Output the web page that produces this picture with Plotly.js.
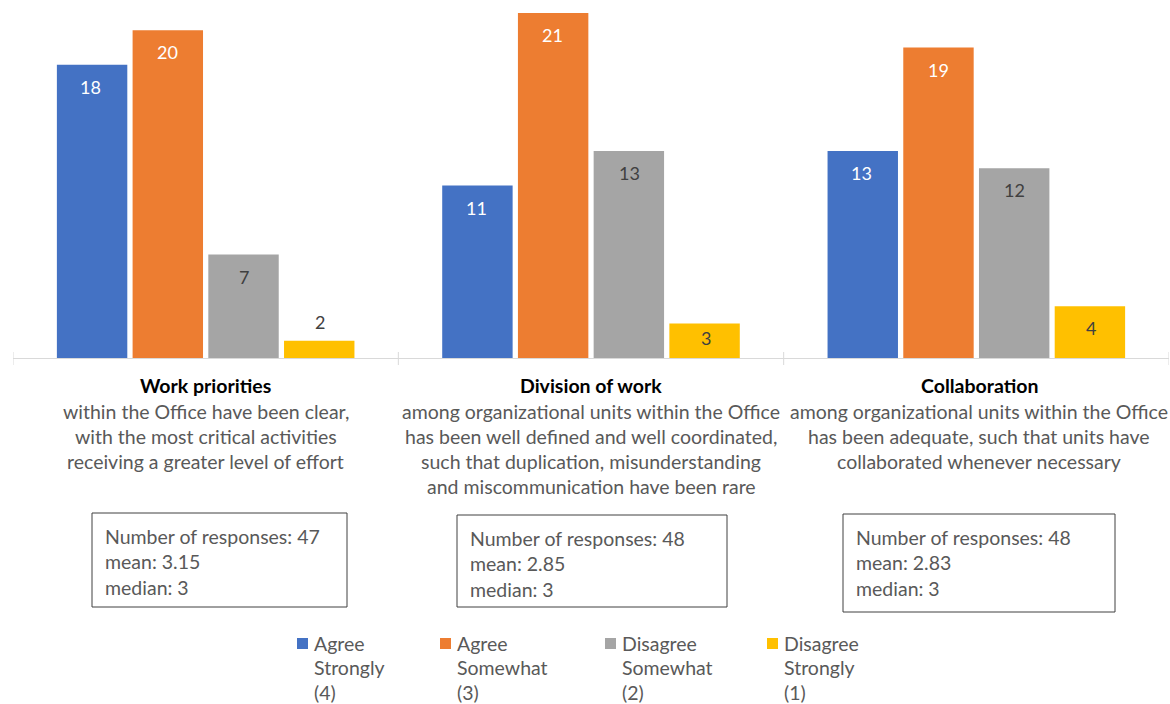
<!DOCTYPE html>
<html><head><meta charset="utf-8">
<script src="https://cdn.plot.ly/plotly-3.0.1.min.js"></script>
<style>html,body{margin:0;padding:0;background:#fff;}#chart{width:1170px;height:704px;}</style>
</head><body><div id="chart"></div>
<script>
// ---- data ----
const categories = ["Work priorities", "Division of work", "Collaboration"];
const categoryDetails = [
  ["within the Office have been clear,", "with the most critical activities", "receiving a greater level of effort"],
  ["among organizational units within the Office", "has been well defined and well coordinated,", "such that duplication, misunderstanding", "and miscommunication have been rare"],
  ["among organizational units within the Office", "has been adequate, such that units have", "collaborated whenever necessary"]
];
const seriesNames = [["Agree", "Strongly", "(4)"], ["Agree", "Somewhat", "(3)"], ["Disagree", "Somewhat", "(2)"], ["Disagree", "Strongly", "(1)"]];
const agreeStrongly = [18, 11, 13];
const agreeSomewhat = [20, 21, 19];
const disagreeSomewhat = [7, 13, 12];
const disagreeStrongly = [2, 3, 4];
const responses = [47, 48, 48];
const means = ["3.15", "2.85", "2.83"];
const medians = [3, 3, 3];

// ---- style ----
const colors = ["#4472C4", "#ED7D31", "#A5A5A5", "#FFC000"];
const labelColors = ["#FFFFFF", "#FFFFFF", "#404040", "#404040"];
const FONT = "Lato, 'Open Sans', sans-serif";
const TXT = 19.5;
const W = 1170, H = 704;
const L = 13, R = 1169, TOP = 13, BASE = 358;
const YMIN = 1, YMAX = 21;
const fx = px => (px - L) / (R - L);
const fy = py => (BASE - py) / (BASE - TOP);
const pxPerUnit = (BASE - TOP) / (YMAX - YMIN);

const allSeries = [agreeStrongly, agreeSomewhat, disagreeSomewhat, disagreeStrongly];
const traces = allSeries.map((vals, i) => ({
  type: "bar", x: categories, y: vals, name: seriesNames[i].join(" "),
  marker: {color: colors[i]}, hoverinfo: "skip", showlegend: false,
  offsetgroup: String(i)
}));

const annotations = [];
// data labels
allSeries.forEach((vals, i) => {
  vals.forEach((v, j) => {
    const hpx = (v - YMIN) * pxPerUnit;
    let shift, col;
    if (hpx < 30) { shift = 19; col = "#404040"; }
    else { shift = -Math.min(22, hpx / 2 - 3); col = labelColors[i]; }
    annotations.push({
      x: categories[j], xref: "x", y: v, yref: "y", yshift: shift,
      xshift: (i - 1.5) * 76.5,
      text: String(v), showarrow: false, xanchor: "center", yanchor: "middle",
      font: {family: FONT, size: 18, color: col}
    });
  });
});
// category labels
const catCenterShift = [0, 0, 3];
categories.forEach((c, j) => {
  annotations.push({x: c, xref: "x", y: fy(385), yref: "paper", yanchor: "middle", xshift: catCenterShift[j],
    text: "<b>" + c + "</b>", showarrow: false, font: {family: FONT, size: TXT, color: "#000000"}});
  categoryDetails[j].forEach((line, k) => {
    annotations.push({x: c, xref: "x", y: fy(411 + k * 25.3), yref: "paper", yanchor: "middle", xshift: catCenterShift[j],
      text: line, showarrow: false, font: {family: FONT, size: TXT, color: "#595959"}});
  });
});
// stat boxes
const boxes = [[92, 513, 347, 607], [457, 515, 727, 607], [843, 514, 1115, 612]];
const shapes = [];
boxes.forEach((b, j) => {
  shapes.push({type: "rect", xref: "paper", yref: "paper", x0: fx(b[0]), x1: fx(b[2]), y0: fy(b[1]), y1: fy(b[3]),
    line: {color: "#404040", width: 1}, fillcolor: "rgba(0,0,0,0)"});
  const lines = ["Number of responses: " + responses[j], "mean: " + means[j], "median: " + medians[j]];
  lines.forEach((t, k) => {
    annotations.push({x: fx(b[0] + 11), xref: "paper", y: fy(b[1] + 23 + k * 25.5), yref: "paper",
      xanchor: "left", yanchor: "middle", text: t, showarrow: false,
      font: {family: FONT, size: TXT, color: "#595959"}});
  });
});
// category boundary ticks
for (let k = 0; k <= categories.length; k++) {
  shapes.push({type: "line", xref: "x", yref: "paper", x0: k - 0.5, x1: k - 0.5, y0: fy(352), y1: fy(365),
    line: {color: "#D9D9D9", width: 1}});
}
// legend
const legX = [297, 440, 605, 767];
seriesNames.forEach((nm, i) => {
  shapes.push({type: "rect", xref: "paper", yref: "paper", x0: fx(legX[i]), x1: fx(legX[i] + 11),
    y0: fy(638), y1: fy(649), line: {width: 0}, fillcolor: colors[i]});
  nm.forEach((t, k) => {
    annotations.push({x: fx(legX[i] + 15), xref: "paper", y: fy(643 + k * 24.5), yref: "paper",
      xanchor: "left", yanchor: "middle", text: t, showarrow: false,
      font: {family: FONT, size: TXT, color: "#595959"}});
  });
});

const layout = {
  width: W, height: H,
  margin: {l: L, r: W - R, t: TOP, b: H - BASE, pad: 0},
  paper_bgcolor: "#FFFFFF", plot_bgcolor: "#FFFFFF",
  barmode: "group", bargap: 0.214, bargroupgap: 0.07,
  xaxis: {type: "category", range: [-0.5, 2.5], showticklabels: false, ticks: "",
    showline: true, linecolor: "#D9D9D9", linewidth: 1, showgrid: false, zeroline: false, fixedrange: true},
  yaxis: {range: [YMIN, YMAX], visible: false, showgrid: false, zeroline: false, fixedrange: true},
  showlegend: false,
  annotations: annotations, shapes: shapes,
  font: {family: FONT}
};
Plotly.newPlot("chart", traces, layout, {displayModeBar: false, staticPlot: true});
</script></body></html>
